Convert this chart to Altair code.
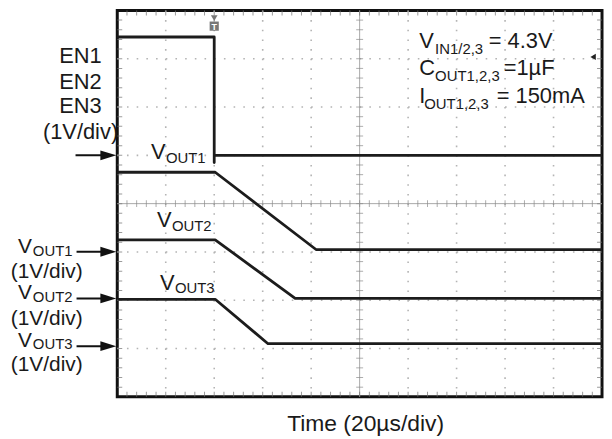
import altair as alt
import pandas as pd
import numpy as np

# ---------------- trace data ----------------
# x: time in screen divisions (20 us/div), y: screen divisions from bottom
en_t    = [0.0, 2.0, 2.0, 2.0, 10.0]
en_v    = [7.45, 7.45, 4.85, 5.0, 5.0]
vout1_t = [0.0, 2.02, 4.1, 10.0]
vout1_v = [4.65, 4.65, 3.05, 3.05]
vout2_t = [0.0, 2.02, 3.67, 10.0]
vout2_v = [3.25, 3.25, 2.04, 2.04]
vout3_t = [0.0, 2.02, 3.11, 10.0]
vout3_v = [2.02, 2.02, 1.1, 1.1]

# ---------------- screen graticule ----------------
X_DIVS = 10
Y_DIVS = 8
MINOR = 5

# ---------------- labels ----------------
FS_BIG = 22
FS_MID = 21
FS_SUB = 15
# left-aligned text pieces (main letter + subscript pieces)
left_text = ["V", "OUT1", "V", "OUT2", "V", "OUT3",
             "V", "OUT1", "V", "OUT2", "V", "OUT3",
             "V", "IN1/2,3", "= 4.3V",
             "C", "OUT1,2,3", "=1\u00b5F",
             "I", "OUT1,2,3", "= 150mA"]
left_t = [-2.05, -1.742, -2.05, -1.742, -2.05, -1.742,
          0.697, 1.004, 0.82, 1.127, 0.881, 1.189,
          6.23, 6.557, 7.664,
          6.23, 6.557, 7.971,
          6.23, 6.332, 7.828]
left_v = [2.984, 2.922, 2.016, 1.955, 1.035, 0.99,
          4.918, 4.835, 3.519, 3.436, 2.222, 2.14,
          7.222, 7.099, 7.222,
          6.667, 6.543, 6.667,
          6.091, 5.967, 6.091]
left_fs = [FS_MID, FS_SUB] * 3 + [FS_BIG, FS_SUB] * 3 + [FS_BIG, FS_SUB, FS_BIG] * 3

# centered text
ctr_text = ["EN1", "EN2", "EN3", "(1V/div)",
            "(1V/div)", "(1V/div)", "(1V/div)",
            "Time (20\u00b5s/div)"]
ctr_t = [-0.758, -0.758, -0.758, -0.758,
         -1.455, -1.455, -1.455,
         5.123]
ctr_v = [6.914, 6.379, 5.885, 5.33,
         2.469, 1.481, 0.53,
         -0.70]
ctr_fs = [FS_BIG, FS_BIG, FS_BIG, FS_BIG, FS_MID, FS_MID, FS_MID, 23]

# channel reference arrows (level in divisions)
arrow_v = [5.0, 3.004, 2.037, 1.049]
arrow_start = [-0.861, -0.84, -0.84, -0.84]
ARROW_HEAD_T = -0.184

# ---------------- build tables ----------------
traces = pd.concat([
    pd.DataFrame({"s": name, "t": t, "v": v, "i": range(len(t))})
    for name, t, v in [("EN", en_t, en_v), ("VOUT1", vout1_t, vout1_v),
                       ("VOUT2", vout2_t, vout2_v), ("VOUT3", vout3_t, vout3_v)]
])

xs = alt.Scale(domain=[0, X_DIVS], nice=False, zero=False)
ys = alt.Scale(domain=[0, Y_DIVS], nice=False, zero=False)


def X(f, **kw):
    return alt.X(f, scale=xs, axis=None, **kw)


def Y(f, **kw):
    return alt.Y(f, scale=ys, axis=None, **kw)


vgrid = pd.DataFrame({"t": [k for k in range(1, X_DIVS) if k != X_DIVS // 2]})
hgrid = pd.DataFrame({"v": [k for k in range(1, Y_DIVS) if k != Y_DIVS // 2]})

minor_x = [k / MINOR for k in range(1, X_DIVS * MINOR)]
minor_y = [k / MINOR for k in range(1, Y_DIVS * MINOR)]

vdots = alt.Chart(vgrid).mark_rule(color="#b4b4b4", strokeWidth=1.6,
                                   strokeDash=[1.6, 8.12]).encode(
    x=X("t:Q"), y=alt.value(0), y2=alt.value(389))
hdots = alt.Chart(hgrid).mark_rule(color="#b4b4b4", strokeWidth=1.6,
                                   strokeDash=[1.6, 8.16]).encode(
    y=Y("v:Q"), x=alt.value(0), x2=alt.value(488))

center = pd.DataFrame({"t": [X_DIVS / 2], "v": [Y_DIVS / 2]})
cx = alt.Chart(center).mark_rule(color="#a8a8a8", strokeWidth=1).encode(
    x=X("t:Q"), y=alt.value(0), y2=alt.value(389))
cy = alt.Chart(center).mark_rule(color="#a8a8a8", strokeWidth=1).encode(
    y=Y("v:Q"), x=alt.value(0), x2=alt.value(488))

tick_top = pd.DataFrame({"t": minor_x})
tick_side = pd.DataFrame({"v": minor_y})

ct_x = alt.Chart(tick_top).mark_tick(orient="vertical", size=7, thickness=1,
                                     color="#8a8a8a").encode(
    x=X("t:Q"), y=Y("c:Q")).transform_calculate(c=str(Y_DIVS / 2))
ct_y = alt.Chart(tick_side).mark_tick(orient="horizontal", size=7, thickness=1,
                                      color="#8a8a8a").encode(
    y=Y("v:Q"), x=X("c:Q")).transform_calculate(c=str(X_DIVS / 2))

bt_top = alt.Chart(tick_top).mark_tick(orient="vertical", size=10, thickness=1,
                                       color="#707070", clip=True).encode(
    x=X("t:Q"), y=Y("c:Q")).transform_calculate(c=str(Y_DIVS))
bt_bot = alt.Chart(tick_top).mark_tick(orient="vertical", size=10, thickness=1,
                                       color="#707070", clip=True).encode(
    x=X("t:Q"), y=Y("c:Q")).transform_calculate(c="0")
bt_left = alt.Chart(tick_side).mark_tick(orient="horizontal", size=10, thickness=1,
                                         color="#707070", clip=True).encode(
    y=Y("v:Q"), x=X("c:Q")).transform_calculate(c="0")
bt_right = alt.Chart(tick_side).mark_tick(orient="horizontal", size=10, thickness=1,
                                          color="#707070", clip=True).encode(
    y=Y("v:Q"), x=X("c:Q")).transform_calculate(c=str(X_DIVS))

lines = alt.Chart(traces).mark_line(color="#1c1c1c", strokeWidth=2.8,
                                    strokeJoin="round", strokeCap="butt").encode(
    x=X("t:Q"), y=Y("v:Q"), detail="s:N", order="i:Q")

arrows = pd.DataFrame({"v": arrow_v, "t0": arrow_start,
                       "t1": [ARROW_HEAD_T] * len(arrow_v)})
shafts = alt.Chart(arrows).mark_rule(color="#111", strokeWidth=2).encode(
    x=X("t0:Q"), x2="t1:Q", y=Y("v:Q"))
heads = alt.Chart(arrows).mark_point(shape="M-1,-0.62L1,0L-1,0.62Z", filled=True,
                                     size=256, color="#111", opacity=1).encode(
    x=X("t1:Q"), y=Y("v:Q"))

# trigger / level markers
trig = pd.DataFrame({"t": [2.0], "v1": [7.84], "v2": [7.675], "v3": [7.60]})
trig_tri = alt.Chart(trig).mark_point(shape="triangle-down", filled=True, size=45,
                                      color="#777", opacity=1).encode(
    x=X("t:Q"), y=Y("v1:Q"))
trig_box = alt.Chart(trig).mark_point(shape="square", filled=True, size=85,
                                      color="#777", opacity=1).encode(
    x=X("t:Q"), y=Y("v2:Q"))
trig_txt = alt.Chart(trig).mark_text(text="T", color="white", fontSize=9,
                                     fontWeight="bold", font="Liberation Sans",
                                     baseline="alphabetic").encode(
    x=X("t:Q"), y=Y("v3:Q"))
lvl = pd.DataFrame({"t": [9.816], "v": [7.037]})
lvl_mark = alt.Chart(lvl).mark_point(shape="triangle-left", filled=True, size=40,
                                     color="#222", opacity=1).encode(
    x=X("t:Q"), y=Y("v:Q"))

ldf = pd.DataFrame({"txt": left_text, "t": left_t, "v": left_v, "fs": left_fs})
cdf = pd.DataFrame({"txt": ctr_text, "t": ctr_t, "v": ctr_v, "fs": ctr_fs})

ltext = alt.Chart(ldf).mark_text(align="left", baseline="alphabetic",
                                 font="Liberation Sans", color="#1a1a1a").encode(
    x=X("t:Q"), y=Y("v:Q"), text="txt:N", size=alt.Size("fs:Q", scale=None))
ctext = alt.Chart(cdf).mark_text(align="center", baseline="alphabetic",
                                 font="Liberation Sans", color="#1a1a1a").encode(
    x=X("t:Q"), y=Y("v:Q"), text="txt:N", size=alt.Size("fs:Q", scale=None))

chart = alt.layer(
    vdots, hdots, cx, cy, ct_x, ct_y, bt_top, bt_bot, bt_left, bt_right,
    lines, shafts, heads, trig_tri, trig_box, trig_txt, lvl_mark, ltext, ctext
).properties(
    width=488, height=389,
    autosize=alt.AutoSizeParams(type="none"),
    padding={"left": 110, "top": 1, "right": 2, "bottom": 41},
    background="white",
).configure_view(stroke="#111", strokeWidth=3)

chart.save("out.html", embed_options={"renderer": "svg", "actions": False})
